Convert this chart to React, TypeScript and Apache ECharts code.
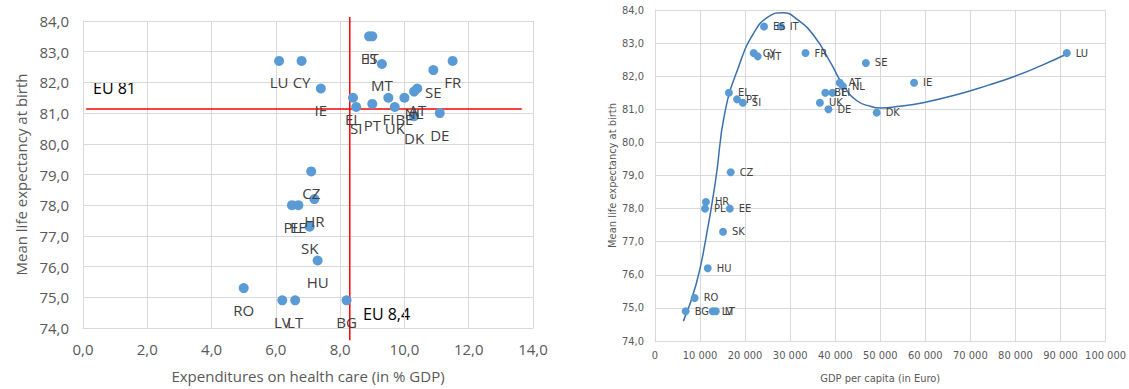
import React, { useEffect, useRef } from 'react';
import * as echarts from 'echarts';

// ---- data ----
const countries = ['LU', 'CY', 'IE', 'FR', 'SE', 'ES', 'IT', 'MT', 'EL', 'SI', 'PT', 'FI', 'UK', 'BE', 'NL', 'AT', 'DK', 'DE', 'CZ', 'HR', 'SK', 'HU', 'PL', 'EE', 'LV', 'LT', 'BG', 'RO'];
const healthExp = [6.1, 6.8, 7.4, 11.5, 10.9, 8.9, 9.0, 9.3, 8.4, 8.5, 9.0, 9.5, 9.7, 10.0, 10.3, 10.4, 10.3, 11.1, 7.1, 7.2, 7.05, 7.3, 6.5, 6.7, 6.2, 6.6, 8.2, 5.0];
const lifeExp = [82.7, 82.7, 81.8, 82.7, 82.4, 83.5, 83.5, 82.6, 81.5, 81.2, 81.3, 81.5, 81.2, 81.5, 81.7, 81.8, 80.9, 81.0, 79.1, 78.2, 77.3, 76.2, 78.0, 78.0, 74.9, 74.9, 74.9, 75.3];
const gdpPerCapita = [91400, 21900, 57500, 33400, 46800, 24200, 27900, 22800, 16400, 19500, 18200, 39400, 36600, 37800, 41700, 41000, 49200, 38500, 16800, 11300, 15100, 11700, 11100, 16600, 12800, 13500, 6800, 8800];

// polynomial trendline as drawn in the picture
const trendGdp = [6300, 9100, 11300, 13500, 15500, 18600, 21900, 25200, 28400, 31700, 35400, 39000, 41900, 44900, 47800, 50000, 54300, 59500, 66700, 74000, 79900, 85700, 91400];
const trendLife = [74.6, 75.7, 77.1, 78.9, 80.9, 82.3, 83.3, 83.8, 83.92, 83.7, 83.2, 82.4, 81.7, 81.25, 81.09, 81.04, 81.09, 81.2, 81.43, 81.73, 82.0, 82.32, 82.67];

// EU reference lines
const euLifeExp = 81.13;
const euHealthExp = 8.3;
const euLifeLabel = 'EU 81';
const euHealthLabel = 'EU 8,4';
const hLineRange = [0.1, 13.65];
const vLineRange = [84.13, 73.6];

const leftXName = 'Expenditures on health care (in % GDP)';
const rightXName = 'GDP per capita (in Euro)';
const yName = 'Mean life expectancy at birth';

const gray = '#595959';
const labelColor = '#404040';
const gridColor = '#d9d9d9';
const dotColor = '#5b9bd5';
const leftFont = "'Open Sans', sans-serif";
const rightFont = "'Liberation Sans Narrow', 'DejaVu Sans Condensed', 'Roboto Condensed', sans-serif";

const fmtDec = (v: number) => v.toFixed(1).replace('.', ',');
const fmtThousands = (v: number) => String(v).replace(/\B(?=(\d{3})+(?!\d))/g, ' ');

export default function App() {
  const ref = useRef<HTMLDivElement>(null);
  useEffect(() => {
    if (!ref.current) return;
    const chart = echarts.init(ref.current, null, { renderer: 'svg' });
    const leftData = countries.map((c, i) => ({ name: c, value: [healthExp[i], lifeExp[i]] }));
    const rightData = countries.map((c, i) => ({ name: c, value: [gdpPerCapita[i], lifeExp[i]] }));
    const trendData = trendGdp.map((g, i) => [g, trendLife[i]]);

    const axisCommon = {
      type: 'value' as const,
      axisLine: { show: true, lineStyle: { color: gridColor, width: 1 } },
      axisTick: { show: false },
      splitLine: { show: true, lineStyle: { color: gridColor, width: 1 } },
    };

    chart.setOption({
      animation: false,
      grid: [
        { left: 83, top: 21, width: 450, height: 307 },
        { left: 655, top: 10, width: 457, height: 338 },
      ],
      xAxis: [
        {
          ...axisCommon, gridIndex: 0, min: 0, max: 14, interval: 2,
          axisLabel: { formatter: fmtDec, color: gray, fontSize: 15, fontFamily: leftFont, margin: 13 },
          name: leftXName, nameLocation: 'middle', nameGap: 40,
          nameTextStyle: { color: gray, fontSize: 15, fontFamily: leftFont },
        },
        {
          ...axisCommon, gridIndex: 1, min: 0, max: 100000, interval: 10000,
          axisLabel: { formatter: fmtThousands, color: gray, fontSize: 11, fontFamily: rightFont, margin: 9 },
          name: rightXName, nameLocation: 'middle', nameGap: 32,
          nameTextStyle: { color: gray, fontSize: 11, fontFamily: rightFont },
        },
      ],
      yAxis: [
        {
          ...axisCommon, gridIndex: 0, min: 74, max: 84, interval: 1,
          axisLabel: { formatter: fmtDec, color: gray, fontSize: 15, fontFamily: leftFont, margin: 14 },
          name: yName, nameLocation: 'middle', nameGap: 55,
          nameTextStyle: { color: gray, fontSize: 15, fontFamily: leftFont },
        },
        {
          ...axisCommon, gridIndex: 1, min: 74, max: 84, interval: 1,
          axisLabel: { formatter: fmtDec, color: gray, fontSize: 11, fontFamily: rightFont, margin: 11 },
          name: yName, nameLocation: 'middle', nameGap: 36,
          nameTextStyle: { color: gray, fontSize: 11, fontFamily: rightFont },
        },
      ],
      series: [
        {
          type: 'line', xAxisIndex: 0, yAxisIndex: 0, clip: false, symbol: 'none', silent: true,
          data: [[hLineRange[0], euLifeExp], [hLineRange[1], euLifeExp]],
          lineStyle: { color: '#ff0000', width: 1.5 }, z: 3,
        },
        {
          type: 'line', xAxisIndex: 0, yAxisIndex: 0, clip: false, symbol: 'none', silent: true,
          data: [[euHealthExp, vLineRange[0]], [euHealthExp, vLineRange[1]]],
          lineStyle: { color: '#ff0000', width: 1.5 }, z: 3,
        },
        {
          type: 'scatter', xAxisIndex: 0, yAxisIndex: 0, data: leftData,
          symbolSize: 10, itemStyle: { color: dotColor, opacity: 1 }, z: 4,
          label: {
            show: true, position: 'bottom', distance: 9, formatter: '{b}',
            color: labelColor, fontSize: 15, fontFamily: leftFont,
          },
        },
        {
          type: 'line', xAxisIndex: 1, yAxisIndex: 1, data: trendData, smooth: 0.5,
          symbol: 'none', lineStyle: { color: '#3a70ae', width: 1.5 }, z: 3,
        },
        {
          type: 'scatter', xAxisIndex: 1, yAxisIndex: 1, data: rightData,
          symbolSize: 8, itemStyle: { color: dotColor, opacity: 1 }, z: 4,
          label: {
            show: true, position: 'right', distance: 5, formatter: '{b}',
            color: labelColor, fontSize: 11, fontFamily: rightFont,
          },
        },
      ],
      graphic: [
        { type: 'text', left: 93, top: 80, style: { text: euLifeLabel, fill: '#000', font: "16px 'Open Sans', sans-serif" } },
        { type: 'text', left: 363, top: 306, style: { text: euHealthLabel, fill: '#000', font: "16px 'Open Sans', sans-serif" } },
      ],
    });
    return () => chart.dispose();
  }, []);
  return <div ref={ref} style={{ position: 'fixed', left: 0, top: 0, width: 1129, height: 389, background: '#fff' }} />;
}
